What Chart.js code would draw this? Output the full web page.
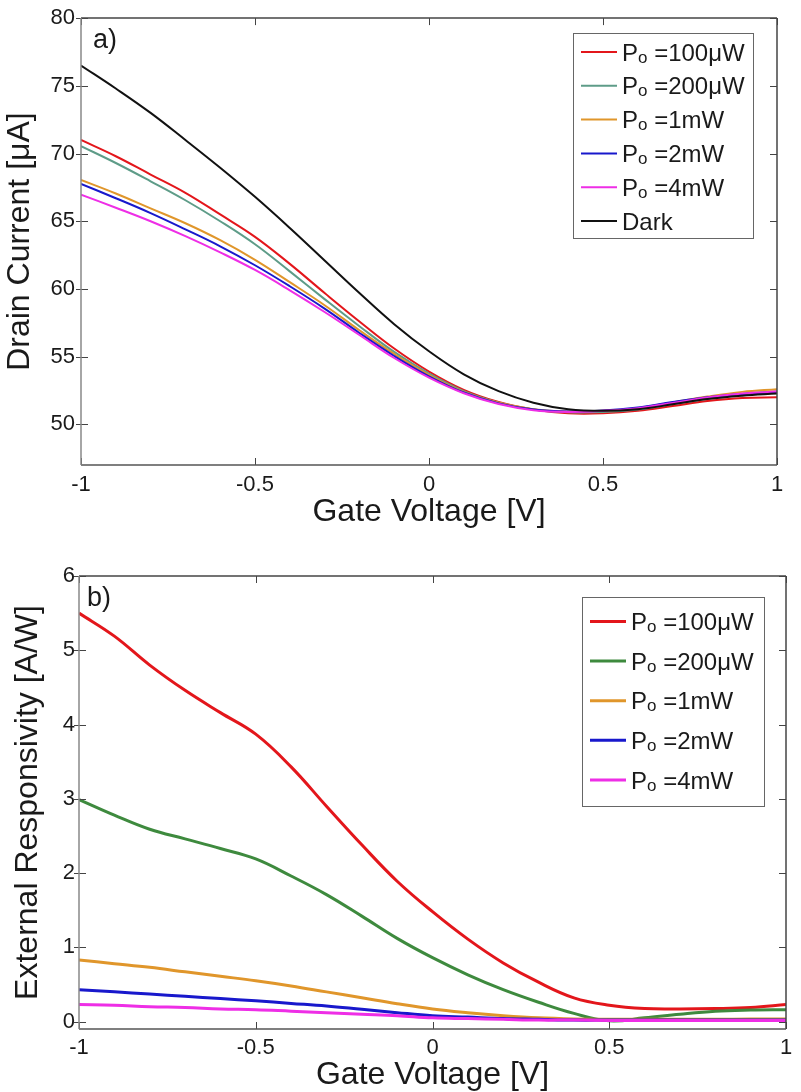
<!DOCTYPE html>
<html>
<head>
<meta charset="utf-8">
<script src="https://cdn.jsdelivr.net/npm/chart.js@4.4.0/dist/chart.umd.min.js"></script>
<style>
    html, body { margin: 0; padding: 0; background: #fff; }
    .panel { position: absolute; left: 0; width: 801px; }
    #topPanel { top: 0; height: 545px; }
    #bottomPanel { top: 545px; height: 547px; }
</style>
</head>
<body>
<div class="panel" id="topPanel"><canvas id="currentChart"></canvas></div>
<div class="panel" id="bottomPanel"><canvas id="respChart"></canvas></div>
<script>
// gate voltage sweep, shared by both panels
const gateVoltage = [-1, -0.9, -0.8, -0.7, -0.6, -0.5, -0.4, -0.3, -0.2, -0.1, 0, 0.1, 0.2, 0.3, 0.4, 0.5, 0.6, 0.7, 0.8, 0.9, 1];

const powerLabels = ['P_o =100μW', 'P_o =200μW', 'P_o =1mW', 'P_o =2mW', 'P_o =4mW'];
const darkLabel = 'Dark';

// a) drain current [uA]
const current100uW = [71.0, 69.8, 68.45, 67.1, 65.5, 63.85, 61.85, 59.7, 57.6, 55.6, 53.9, 52.55, 51.65, 51.1, 50.82, 50.82, 51.0, 51.35, 51.72, 51.95, 52.0];
const current200uW = [70.55, 69.3, 67.95, 66.55, 65.0, 63.3, 61.3, 59.25, 57.25, 55.35, 53.75, 52.45, 51.6, 51.1, 50.9, 50.92, 51.1, 51.5, 51.9, 52.25, 52.45];
const current1mW = [68.05, 67.05, 65.95, 64.85, 63.6, 62.15, 60.5, 58.8, 56.95, 55.2, 53.65, 52.4, 51.6, 51.12, 50.95, 51.0, 51.2, 51.62, 52.05, 52.4, 52.6];
const current2mW = [67.76, 66.7, 65.6, 64.4, 63.15, 61.75, 60.2, 58.55, 56.75, 55.05, 53.55, 52.35, 51.55, 51.1, 50.95, 51.02, 51.25, 51.65, 52.0, 52.25, 52.35];
const current4mW = [66.96, 66.0, 65.0, 63.9, 62.7, 61.4, 59.9, 58.3, 56.6, 54.9, 53.45, 52.3, 51.5, 51.05, 50.92, 51.0, 51.2, 51.58, 51.98, 52.28, 52.42];
const currentDark = [76.5, 74.8, 73.0, 71.0, 68.95, 66.8, 64.5, 62.1, 59.7, 57.4, 55.4, 53.7, 52.45, 51.6, 51.12, 51.0, 51.12, 51.48, 51.87, 52.12, 52.28];

// b) external responsivity [A/W]
const resp100uW = [5.50, 5.19, 4.80, 4.46, 4.16, 3.87, 3.43, 2.90, 2.38, 1.89, 1.48, 1.11, 0.79, 0.53, 0.32, 0.22, 0.175, 0.17, 0.175, 0.19, 0.23];
const resp200uW = [2.99, 2.78, 2.59, 2.46, 2.33, 2.19, 1.96, 1.71, 1.42, 1.12, 0.86, 0.63, 0.43, 0.26, 0.11, 0.01, 0.05, 0.10, 0.14, 0.155, 0.16];
const resp1mW = [0.83, 0.78, 0.73, 0.67, 0.61, 0.55, 0.48, 0.40, 0.32, 0.24, 0.17, 0.12, 0.08, 0.05, 0.035, 0.03, 0.03, 0.03, 0.03, 0.035, 0.035];
const resp2mW = [0.43, 0.40, 0.37, 0.34, 0.31, 0.28, 0.245, 0.21, 0.165, 0.12, 0.08, 0.06, 0.04, 0.03, 0.02, 0.02, 0.02, 0.02, 0.02, 0.02, 0.02];
const resp4mW = [0.23, 0.22, 0.20, 0.19, 0.17, 0.16, 0.14, 0.12, 0.10, 0.08, 0.05, 0.04, 0.03, 0.02, 0.02, 0.015, 0.015, 0.015, 0.015, 0.015, 0.015];

const gateTicks = [-1, -0.5, 0, 0.5, 1];
const currentTicks = [50, 55, 60, 65, 70, 75, 80];
const respTicks = [0, 1, 2, 3, 4, 5, 6];

const FONT = '"Liberation Sans", Arial, Helvetica, sans-serif';
const TEXT = '#1a1a1a';

const toPoints = (ys) => ys.map((y, i) => ({ x: gateVoltage[i], y }));

// MATLAB-ish box, inner ticks, panel tag and legend with a subscript
const axesBox = {
    id: 'axesBox',
    afterDatasetsDraw(chart, args, opts) {
        const { ctx, chartArea: a, scales: { x, y } } = chart;
        ctx.save();

        ctx.strokeStyle = '#444';
        ctx.lineWidth = 1;
        ctx.beginPath();
        x.ticks.forEach((t) => {
            const px = Math.round(x.getPixelForValue(t.value)) + 0.5;
            ctx.moveTo(px, a.bottom); ctx.lineTo(px, a.bottom - 7);
            ctx.moveTo(px, a.top); ctx.lineTo(px, a.top + 7);
        });
        y.ticks.forEach((t) => {
            const py = Math.round(y.getPixelForValue(t.value)) + 0.5;
            ctx.moveTo(a.left - 5, py); ctx.lineTo(a.left + 7, py);
            ctx.moveTo(a.right, py); ctx.lineTo(a.right - 7, py);
        });
        ctx.stroke();

        ctx.lineWidth = 1.5;
        const side = (color, x0, y0, x1, y1) => {
            ctx.strokeStyle = color;
            ctx.beginPath(); ctx.moveTo(x0, y0); ctx.lineTo(x1, y1); ctx.stroke();
        };
        side('#444', a.left, a.top, a.right, a.top);
        side('#444', a.right, a.top, a.right, a.bottom);
        side('#555', a.left, a.bottom, a.right, a.bottom);
        side('#888', a.left, a.top, a.left, a.bottom);

        ctx.fillStyle = TEXT;
        ctx.font = `27px ${FONT}`;
        ctx.textBaseline = 'alphabetic';
        ctx.textAlign = 'left';
        ctx.fillText(opts.tag, a.left + opts.tagDx, a.top + 30);

        const lg = opts.legend;
        ctx.fillStyle = '#fff';
        ctx.fillRect(lg.x, lg.y, lg.w, lg.h);
        ctx.strokeStyle = '#666';
        ctx.lineWidth = 1;
        ctx.strokeRect(lg.x + 0.5, lg.y + 0.5, lg.w, lg.h);

        chart.data.datasets.forEach((ds, i) => {
            const cy = lg.y + lg.first + i * lg.gap;
            ctx.strokeStyle = ds.borderColor;
            ctx.lineWidth = ds.borderWidth;
            ctx.beginPath();
            ctx.moveTo(lg.x + 8, cy);
            ctx.lineTo(lg.x + 44, cy);
            ctx.stroke();

            const base = cy + 8.6;
            let tx = lg.x + 49;
            ctx.fillStyle = TEXT;
            const parts = ds.label.split('_');
            ctx.font = `24px ${FONT}`;
            ctx.fillText(parts[0], tx, base);
            tx += ctx.measureText(parts[0]).width;
            if (parts.length > 1) {
                const sub = parts[1].charAt(0);
                const rest = parts[1].slice(1);
                ctx.font = `17px ${FONT}`;
                ctx.fillText(sub, tx, base + 2);
                tx += ctx.measureText(sub).width;
                ctx.font = `24px ${FONT}`;
                ctx.fillText(rest, tx, base);
            }
        });
        ctx.restore();
    },
};

function makeChart(canvasId, cfg) {
    const datasets = cfg.series.map((s, i) => ({
        label: s.label,
        data: toPoints(s.data),
        borderColor: s.color,
        borderWidth: cfg.lineWidth,
        pointRadius: 0,
        fill: false,
        tension: 0.4,
        order: cfg.series.length - i,
    }));

    return new Chart(document.getElementById(canvasId), {
        type: 'line',
        data: { datasets },
        plugins: [axesBox],
        options: {
            responsive: true,
            maintainAspectRatio: false,
            animation: false,
            layout: { padding: cfg.padding },
            plugins: {
                legend: { display: false },
                tooltip: { enabled: false },
                axesBox: { tag: cfg.tag, tagDx: cfg.tagDx, legend: cfg.legend },
            },
            scales: {
                x: {
                    type: 'linear',
                    min: -1,
                    max: 1,
                    afterBuildTicks: (s) => { s.ticks = gateTicks.map((v) => ({ value: v })); },
                    afterFit: (s) => { s.height = cfg.xHeight; },
                    grid: { display: false, drawTicks: false },
                    border: { display: false },
                    ticks: {
                        color: TEXT,
                        font: { family: FONT, size: 22 },
                        padding: cfg.xTickPad,
                        maxRotation: 0,
                        autoSkip: false,
                        callback: (v) => String(v),
                    },
                    title: {
                        display: true,
                        text: 'Gate Voltage [V]',
                        color: TEXT,
                        font: { family: FONT, size: 32, lineHeight: 1 },
                        padding: { top: 0, bottom: cfg.xTitlePad },
                    },
                },
                y: {
                    type: 'linear',
                    min: cfg.yMin,
                    max: cfg.yMax,
                    afterBuildTicks: (s) => { s.ticks = cfg.yTicks.map((v) => ({ value: v })); },
                    afterFit: (s) => { s.width = cfg.yWidth; },
                    grid: { display: false, drawTicks: false },
                    border: { display: false },
                    ticks: {
                        color: TEXT,
                        font: { family: FONT, size: 22, lineHeight: 1.1 },
                        padding: cfg.yTickPad,
                        callback: (v) => String(v),
                    },
                    title: {
                        display: true,
                        text: cfg.yTitle,
                        color: TEXT,
                        font: { family: FONT, size: 32, lineHeight: 1 },
                        padding: { top: cfg.yTitlePad, bottom: 0 },
                    },
                },
            },
        },
    });
}

makeChart('currentChart', {
    series: [
        { label: powerLabels[0], data: current100uW, color: '#e3161b' },
        { label: powerLabels[1], data: current200uW, color: '#5e9c88' },
        { label: powerLabels[2], data: current1mW, color: '#e0962b' },
        { label: powerLabels[3], data: current2mW, color: '#1818cc' },
        { label: powerLabels[4], data: current4mW, color: '#ee2ee6' },
        { label: darkLabel, data: currentDark, color: '#111111' },
    ],
    lineWidth: 2,
    padding: { top: 13, right: 24, left: 0, bottom: 0 },
    xHeight: 80,
    xTickPad: 7,
    xTitlePad: 17,
    yWidth: 81,
    yTickPad: 6,
    yTitlePad: 4,
    yMin: 47,
    yMax: 80,
    yTicks: currentTicks,
    yTitle: 'Drain Current [μA]',
    tag: 'a)',
    tagDx: 12,
    legend: { x: 573, y: 33, w: 180, h: 205, first: 19, gap: 33.8 },
});

makeChart('respChart', {
    series: [
        { label: powerLabels[0], data: resp100uW, color: '#e3161b' },
        { label: powerLabels[1], data: resp200uW, color: '#3e8a3e' },
        { label: powerLabels[2], data: resp1mW, color: '#e0962b' },
        { label: powerLabels[3], data: resp2mW, color: '#1818cc' },
        { label: powerLabels[4], data: resp4mW, color: '#ee2ee6' },
    ],
    lineWidth: 3,
    padding: { top: 31, right: 15, left: 0, bottom: 0 },
    xHeight: 63,
    xTickPad: 6,
    xTitlePad: 1,
    yWidth: 79,
    yTickPad: 4,
    yTitlePad: 12,
    yMin: -0.1,
    yMax: 6,
    yTicks: respTicks,
    yTitle: 'External Responsivity [A/W]',
    tag: 'b)',
    tagDx: 8,
    legend: { x: 582, y: 52, w: 182, h: 209, first: 24.5, gap: 39.6 },
});
</script>
</body>
</html>
